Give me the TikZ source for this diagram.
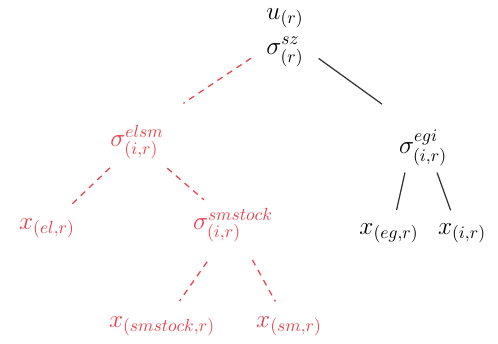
\documentclass[tikz,border=0pt]{standalone}
\usepackage{amsmath}
\definecolor{treered}{RGB}{232,64,76}
\begin{document}
\begin{tikzpicture}[x=0.02cm, y=-0.02cm, font=\Large,
    redline/.style={treered, line width=0.7pt, dash pattern=on 3.5pt off 3pt},
    blackline/.style={black!80, line width=0.7pt}]
    \useasboundingbox (0,0) rectangle (498,344);

    % 根
    \node (u) at (285,18) {$u_{(r)}$};
    \node (sz) at (285,52) {$\sigma^{sz}_{(r)}$};

    % 左子树
    \begin{scope}[treered]
        \node (elsm) at (137,142) {$\sigma^{elsm}_{(i,r)}$};
        \node (xel) at (47,228) {$x_{(el,r)}$};
        \node (smstock) at (233,225) {$\sigma^{smstock}_{(i,r)}$};
        \node (xsmstock) at (162,326) {$x_{(smstock,r)}$};
        \node (xsm) at (289,326) {$x_{(sm,r)}$};
    \end{scope}

    % 右子树
    \node (egi) at (423,148) {$\sigma^{egi}_{(i,r)}$};
    \node (xeg) at (389,233) {$x_{(eg,r)}$};
    \node (xi) at (462,233) {$x_{(i,r)}$};

    % 连线
    \draw[redline, shorten <=0.22cm, shorten >=0.56cm] (sz.west) -- (elsm.45);
    \draw[redline, shorten <=0.75cm, shorten >=0.62cm] (elsm.center) -- (xel.center);
    \draw[redline, shorten <=0.8cm, shorten >=0.77cm] (elsm.center) -- (smstock.center);
    \draw[redline, shorten <=0.9cm, shorten >=0.61cm] (smstock.center) -- (xsmstock.center);
    \draw[redline, shorten <=0.8cm, shorten >=0.56cm] (smstock.center) -- (xsm.center);

    \draw[blackline, shorten <=0.22cm, shorten >=0.66cm] (sz.east) -- (egi.120);
    \draw[blackline, shorten >=0.14cm] ([xshift=-0.36cm]egi.south) -- ([xshift=0.12cm]xeg.north);
    \draw[blackline, shorten >=0.14cm] ([xshift=0.28cm]egi.south) -- ([xshift=-0.18cm]xi.north);
\end{tikzpicture}
\end{document}
